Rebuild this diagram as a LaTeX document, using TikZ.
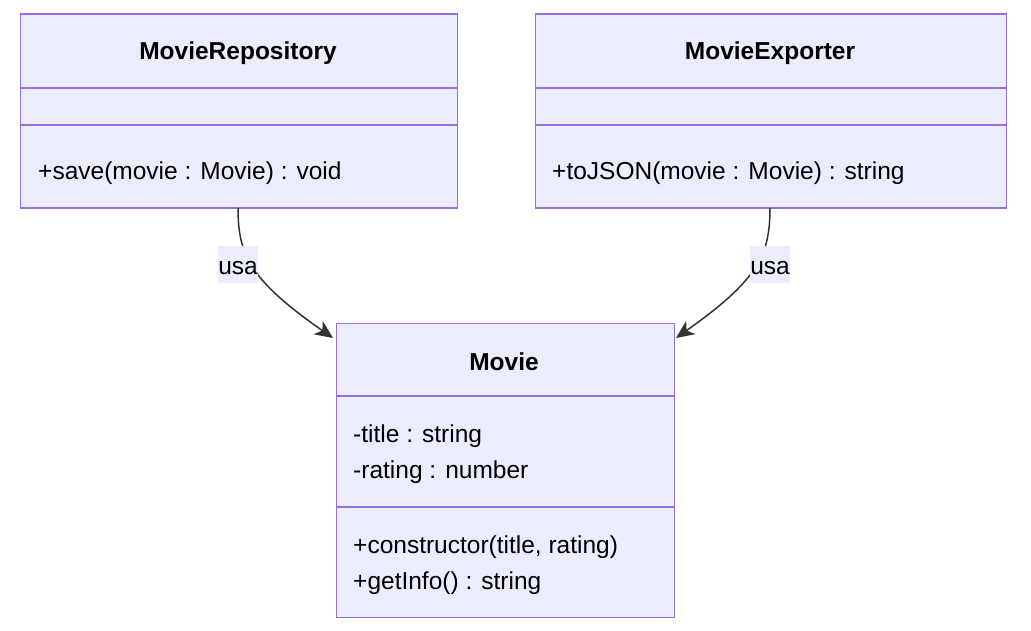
\documentclass[tikz,border=0pt]{standalone}
\usepackage{fontspec}
\setmainfont{Liberation Sans}
\usetikzlibrary{arrows.meta,positioning,calc}
\definecolor{classfill}{HTML}{ECECFF}
\definecolor{classline}{HTML}{9370DB}
\definecolor{edgeline}{HTML}{333333}
\begin{document}
\begin{tikzpicture}[x=1pt, y=-1pt,
  box/.style = {draw=classline, fill=classfill, line width=1.5pt, anchor=north west, inner sep=0pt},
  divider/.style = {draw=classline, line width=1.5pt},
  title/.style = {font=\fontsize{24.5}{30}\selectfont\bfseries},
  member/.style = {font=\fontsize{24.5}{30}\selectfont, anchor=west, inner sep=0pt},
  rel/.style = {draw=edgeline, line width=1.5pt, -{Stealth[length=18pt,width=16pt,inset=5pt]}},
  tag/.style = {fill=classfill, font=\fontsize{24.5}{30}\selectfont, inner xsep=0.5pt, inner ysep=0pt, text height=20pt, text depth=0pt, minimum height=37pt}]
\useasboundingbox (0,0) rectangle (1031,631);

% MovieRepository
\node[box, minimum width=437pt, minimum height=194pt] (repo) at (19.5,13.5) {};
\draw[divider] ($(repo.north west)+(0,74.5)$) -- ($(repo.north east)+(0,74.5)$);
\draw[divider] ($(repo.north west)+(0,111.5)$) -- ($(repo.north east)+(0,111.5)$);
\node[title] (repoName) at (238,53.5) {MovieRepository};
\node[member] (repoSave) at (38,173.5) {+save(movie : Movie) : void};

% MovieExporter
\node[box, minimum width=471pt, minimum height=194pt] (exp) at (534.5,13.5) {};
\draw[divider] ($(exp.north west)+(0,74.5)$) -- ($(exp.north east)+(0,74.5)$);
\draw[divider] ($(exp.north west)+(0,111.5)$) -- ($(exp.north east)+(0,111.5)$);
\node[title] (expName) at (770,53.5) {MovieExporter};
\node[member] (expJson) at (552,173.5) {+toJSON(movie : Movie) : string};

% Movie
\node[box, minimum width=338pt, minimum height=294pt] (movie) at (335.5,322.5) {};
\draw[divider] ($(movie.north west)+(0,73.5)$) -- ($(movie.north east)+(0,73.5)$);
\draw[divider] ($(movie.north west)+(0,184.5)$) -- ($(movie.north east)+(0,184.5)$);
\node[title] (movieName) at (504,361.5) {Movie};
\node[member] (movieTitle) at (353,436.5) {-title : string};
\node[member] (movieRating) at (353,472.5) {-rating : number};
\node[member] (movieCtor) at (353,547.5) {+constructor(title, rating)};
\node[member] (movieInfo) at (353,583.5) {+getInfo() : string};

% relations
\coordinate (repoOut) at (238,208);
\coordinate (expOut) at (770,208);
\coordinate (movieInL) at (333,338);
\coordinate (movieInR) at (676,338);
\draw[rel] (repoOut) .. controls (238,255) and (250,280) .. (movieInL);
\draw[rel] (expOut) .. controls (770,255) and (758,280) .. (movieInR);
\node[tag] (repoUse) at (238,264.5) {usa};
\node[tag] (expUse) at (770,264.5) {usa};
\end{tikzpicture}
\end{document}
